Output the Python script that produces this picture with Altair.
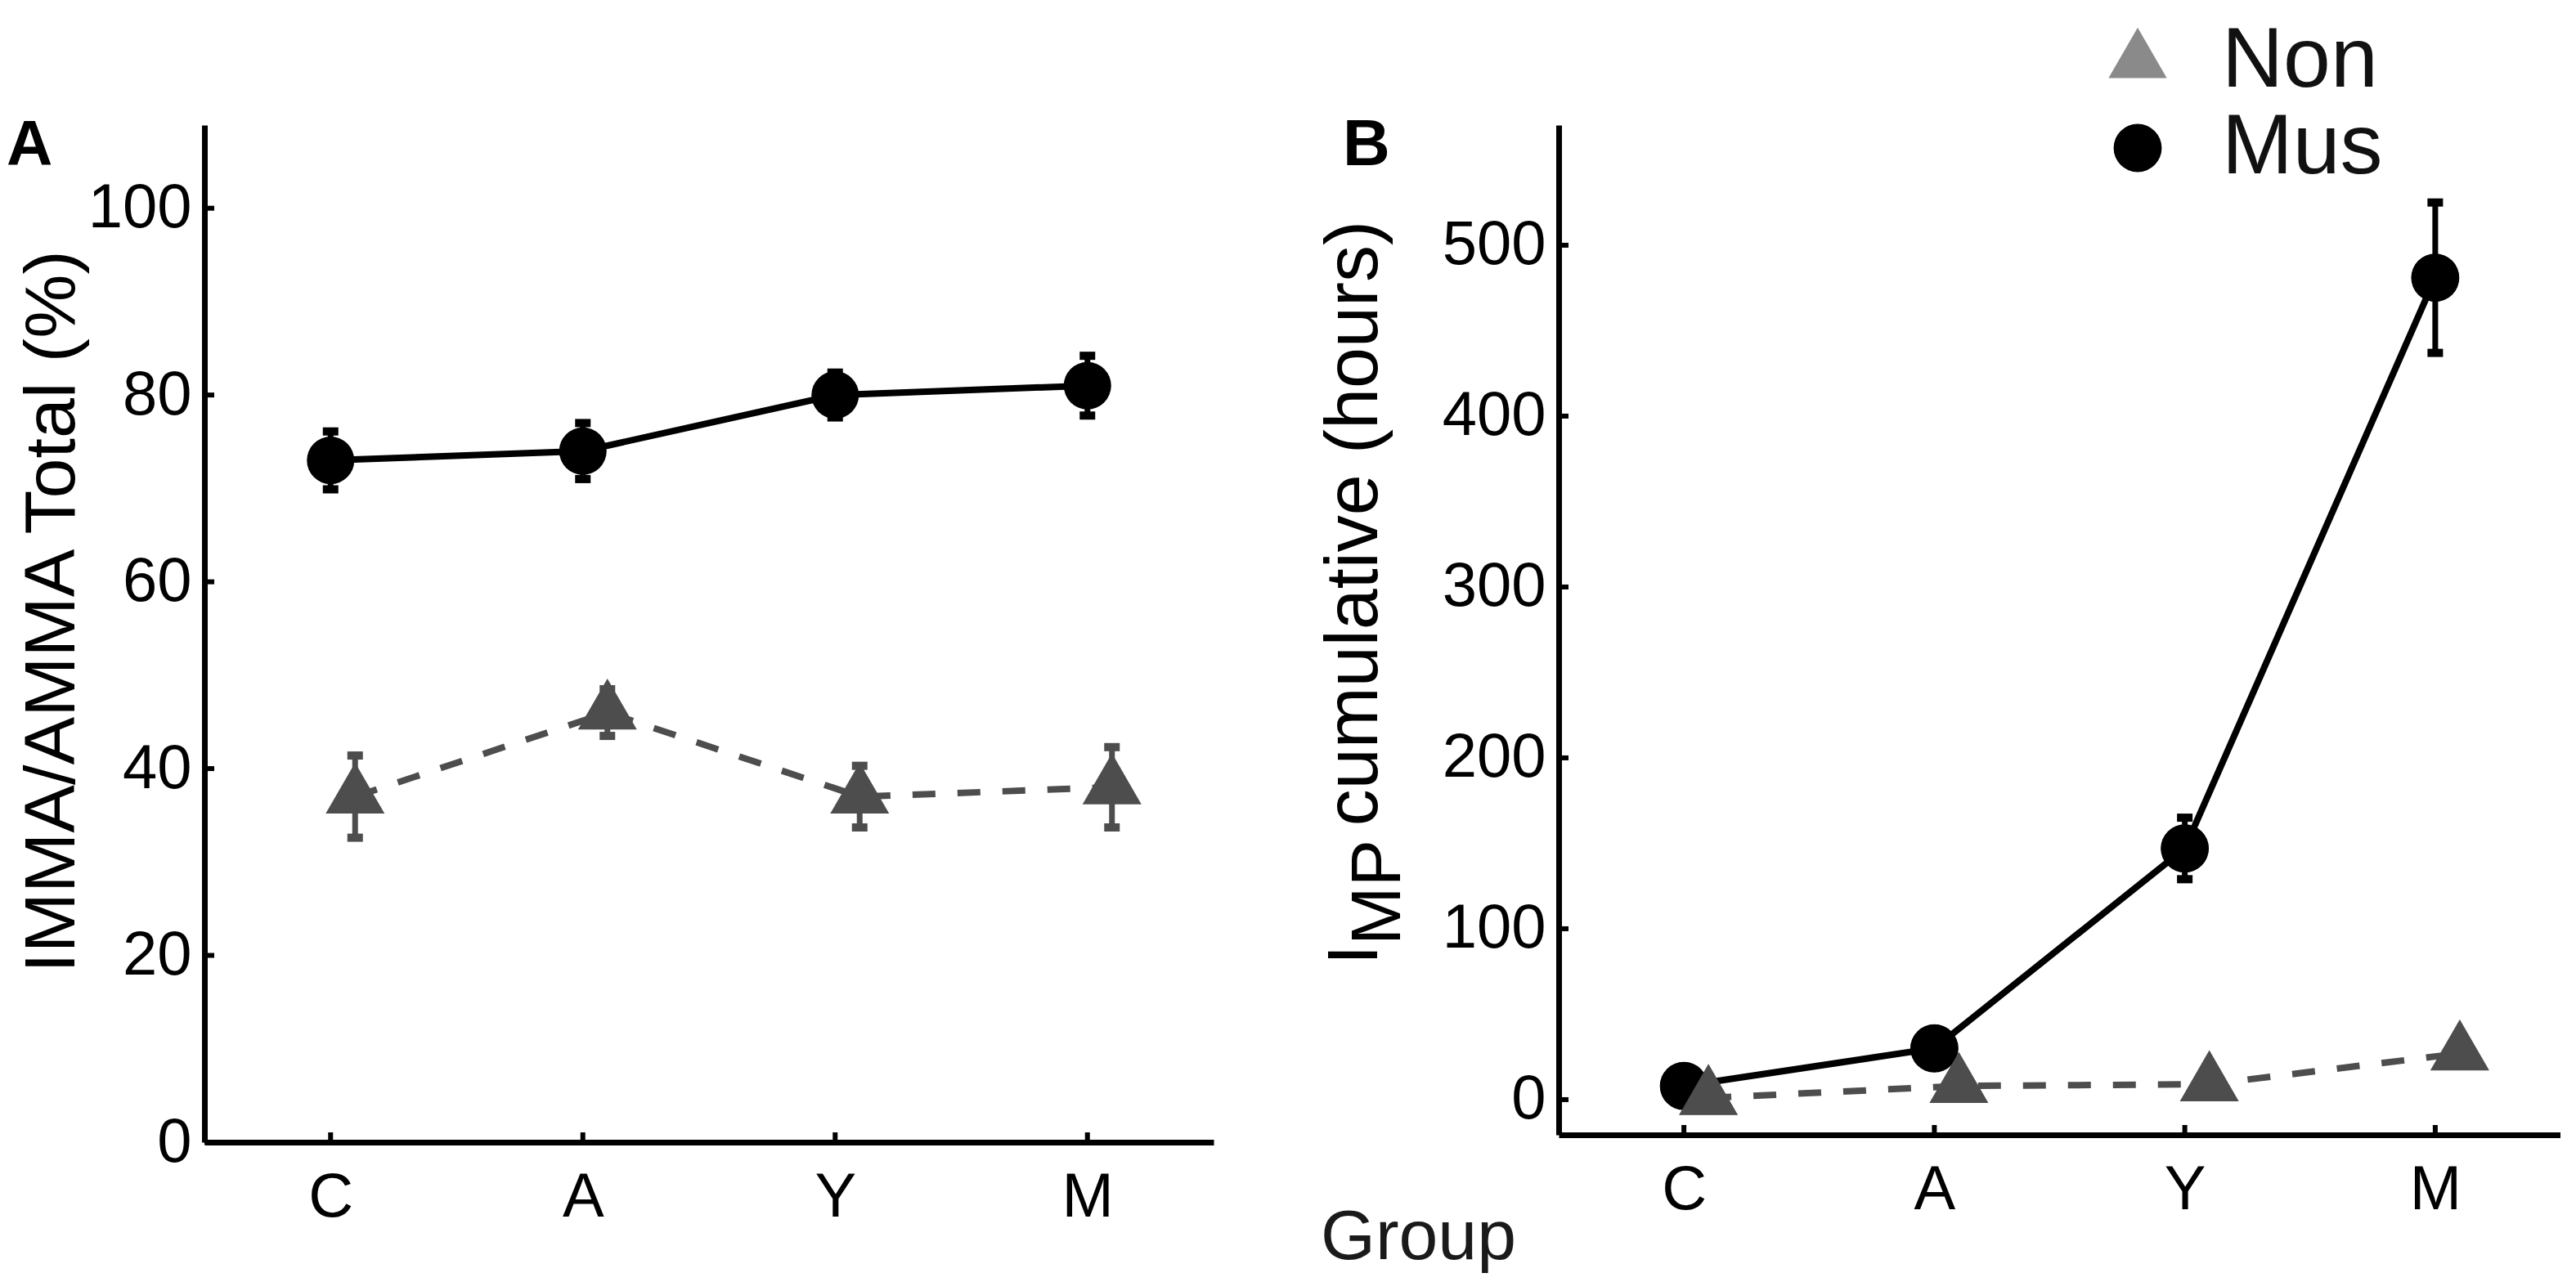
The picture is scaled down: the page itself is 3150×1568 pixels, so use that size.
import altair as alt
import pandas as pd

# ---------------- data ----------------
groups = ["C", "A", "Y", "M"]
series_names = ["Non", "Mus"]

# Panel A: IMMA/AMMA Total (%)
a_mus = [73, 74, 80, 81]
a_mus_err = [3.1, 3.0, 2.4, 3.2]
a_non = [37, 46, 37, 38]
a_non_err = [4.4, 2.5, 3.3, 4.3]

# Panel B: IMP cumulative (hours)
b_mus = [8, 30, 147, 481]
b_mus_err = [3, 5, 18, 44]
b_non = [1, 8, 9, 27]
b_non_err = [1, 2, 2, 4]

a_yticks = [0, 20, 40, 60, 80, 100]
b_yticks = [0, 100, 200, 300, 400, 500]

a_ylabel = "IMMA/AMMA Total (%)"
b_ylabel_main = "I"
b_ylabel_sub = "MP"
b_ylabel_rest = "cumulative (hours)"
x_label = "Group"
panel_labels = ["A", "B"]

# ---------------- style ----------------
FONT = "Liberation Sans"
NON_COLOR = "#4d4d4d"
MUS_COLOR = "#000000"
LEGEND_NON = "#8a8a8a"
TRI = "M0,-1.155L1,0.577L-1,0.577Z"   # triangle centred on its centroid
TRI_SIZE = 5184
CIRC_SIZE = 3364
SERIES_STYLE = {
    "Mus": dict(color=MUS_COLOR, xo=0, dash=None, shape="circle", size=CIRC_SIZE),
    "Non": dict(color=NON_COLOR, xo=30, dash=[28, 27], shape=TRI, size=TRI_SIZE),
}


def frame(mus, mus_err, non, non_err):
    rows = []
    for s, vals, errs in (("Mus", mus, mus_err), ("Non", non, non_err)):
        for i, (g, v, e) in enumerate(zip(groups, vals, errs)):
            rows.append(dict(group=g, idx=i, series=s, value=v, lo=v - e, hi=v + e))
    return pd.DataFrame(rows)


def text_layer(txt, x, y, size, angle=None, align="left", bold=False, color="#000"):
    kw = dict(font=FONT, fontSize=size, align=align, baseline="alphabetic", color=color)
    if angle is not None:
        kw["angle"] = angle
    if bold:
        kw["fontWeight"] = "bold"
    return alt.Chart(pd.DataFrame({"t": [txt]})).mark_text(**kw).encode(
        text="t:N", x=alt.value(x), y=alt.value(y)
    )


def panel(df, W, H, ydom, yticks, extras, legend=None):
    xs = alt.Scale(type="point", domain=groups, padding=0.5)
    ys = alt.Scale(domain=ydom, nice=False, zero=False)
    xaxis = alt.Axis(title=None, labelFont=FONT, labelFontSize=76, labelColor="#000",
                     labelPadding=30, ticks=False, tickSize=0, domainColor="#000",
                     domainWidth=7, grid=False, labelAngle=0)
    yaxis = alt.Axis(title=None, values=yticks, labelFont=FONT, labelFontSize=76,
                     labelColor="#000", labelPadding=16, ticks=False, tickSize=0,
                     domainColor="#000", domainWidth=7, grid=False)
    X = alt.X("group:N", scale=xs, sort=groups, axis=xaxis)

    def Y(f):
        return alt.Y(f"{f}:Q", scale=ys, axis=yaxis)

    layers = []
    if legend is not None:
        # legend carrier: drawn beneath the real symbols (same place, same size)
        for s in ("Mus", "Non"):
            st = SERIES_STYLE[s]
            layers.append(
                alt.Chart(df).transform_filter(alt.datum.series == s)
                .mark_point(filled=True, opacity=1, strokeWidth=0, xOffset=st["xo"])
                .encode(
                    x=X, y=Y("value"),
                    color=alt.Color("series:N", scale=alt.Scale(domain=series_names, range=[LEGEND_NON, MUS_COLOR]), legend=legend),
                    shape=alt.Shape("series:N", scale=alt.Scale(domain=series_names, range=[TRI, "circle"]), legend=legend),
                    size=alt.Size("series:N", scale=alt.Scale(domain=series_names, range=[TRI_SIZE - 100, CIRC_SIZE + 100]), legend=legend),
                )
            )

    for s in ("Mus", "Non"):
        st = SERIES_STYLE[s]
        col, xo = st["color"], st["xo"]
        b = alt.Chart(df).transform_filter(alt.datum.series == s)
        lkw = dict(color=col, strokeWidth=8, xOffset=xo)
        if st["dash"]:
            lkw["strokeDash"] = st["dash"]
        layers.append(b.mark_line(**lkw).encode(x=X, y=Y("value"), order="idx:Q"))
        layers.append(b.mark_rule(color=col, strokeWidth=7, xOffset=xo).encode(
            x=X, y=Y("lo"), y2="hi:Q"))
        for f in ("lo", "hi"):
            layers.append(b.mark_tick(color=col, thickness=10, size=19, opacity=1, xOffset=xo).encode(
                x=X, y=Y(f)))
        layers.append(b.mark_point(filled=True, shape=st["shape"], size=st["size"], color=col,
                                   opacity=1, strokeWidth=0, xOffset=xo).encode(x=X, y=Y("value")))

    # inward tick marks
    layers.append(alt.Chart(pd.DataFrame({"v": yticks})).mark_rule(color="#000", strokeWidth=6).encode(
        y=Y("v"), x=alt.value(0), x2=alt.value(12)))
    layers.append(alt.Chart(pd.DataFrame({"group": groups})).mark_rule(color="#000", strokeWidth=6).encode(
        x=X, y=alt.value(H), y2=alt.value(H - 12)))

    layers.extend(extras)
    return alt.layer(*layers).properties(width=W, height=H)


dfA = frame(a_mus, a_mus_err, a_non, a_non_err)
dfB = frame(b_mus, b_mus_err, b_non, b_non_err)

WA, HA = 1234, 1244
WB, HB = 1225, 1235

extrasA = [
    text_layer(panel_labels[0], -242, 49, 78, bold=True),
    text_layer(a_ylabel, -159, 595, 88, angle=270, align="center"),
]
# invisible spacer that fixes the top margin (keeps the legend text clear of the edge)
top_spacer = alt.Chart(pd.DataFrame({"d": [0]})).mark_rule(opacity=0, strokeWidth=1).encode(
    x=alt.value(0), x2=alt.value(1), y=alt.value(-144.5))
extrasB = [
    top_spacer,
    text_layer(panel_labels[1], -264, 49, 80, bold=True),
    text_layer(b_ylabel_main, -222, 1027, 88, angle=270, align="left"),
    text_layer(b_ylabel_sub, -194, 1003, 86, angle=270, align="left"),
    text_layer(b_ylabel_rest, -222, 117, 90, angle=270, align="right"),
    text_layer(x_label, -291, 1387, 86, color="#1a1a1a"),
]

legendB = alt.Legend(title=None, orient="none", legendX=656, legendY=-130, padding=0,
                     labelFont=FONT, labelFontSize=104, labelColor="#111", labelOffset=51,
                     rowPadding=2, symbolStrokeWidth=0, labelLimit=0)

pA = panel(dfA, WA, HA, [0, 108.9], a_yticks, extrasA)
pB = panel(dfB, WB, HB, [-20.6, 570.3], b_yticks, extrasB, legend=legendB)

chart = (
    alt.hconcat(pA, pB, spacing=128)
    .resolve_scale(color="independent", shape="independent", size="independent")
    .properties(padding=0, background="white")
    .configure_view(stroke=None)
)

chart.save("out.html", embed_options={"renderer": "svg", "actions": False})
